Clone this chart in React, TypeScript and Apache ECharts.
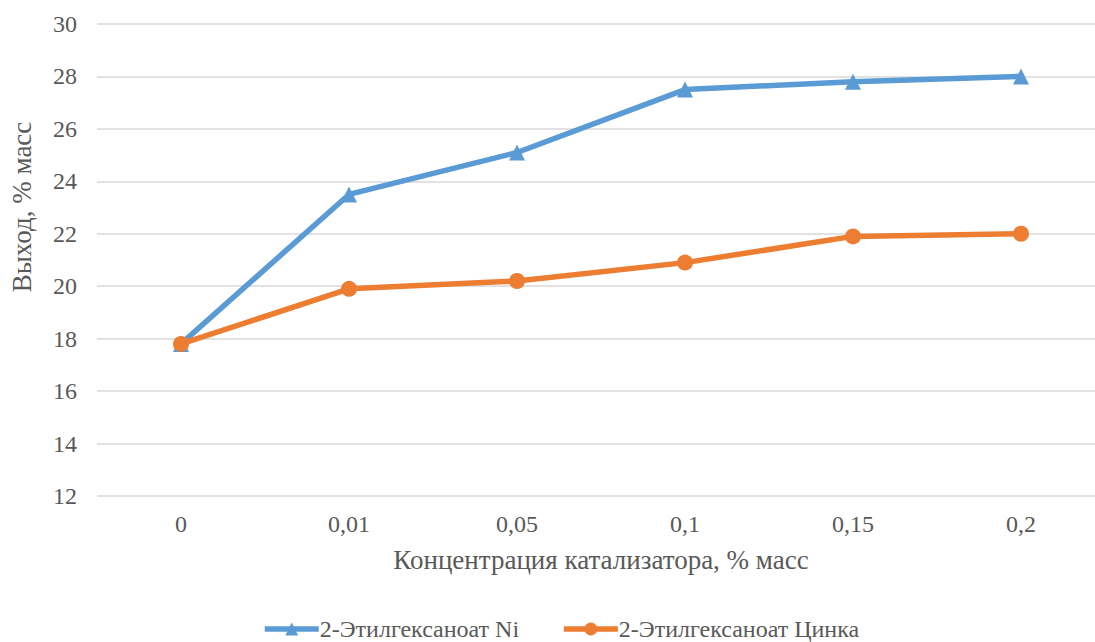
import React, { useEffect, useRef } from "react";
import * as echarts from "echarts";

const categories = ["0", "0,01", "0,05", "0,1", "0,15", "0,2"];
const nickelYield = [17.8, 23.5, 25.1, 27.5, 27.8, 28.0];
const zincYield = [17.8, 19.9, 20.2, 20.9, 21.9, 22.0];
const seriesNames = ["2-Этилгексаноат Ni", "2-Этилгексаноат Цинка"];
const xTitle = "Концентрация катализатора, % масс";
const yTitle = "Выход, % масс";

const FONT = "Liberation Serif";
const TEXT = "#595959";

export default function App() {
  const ref = useRef<HTMLDivElement>(null);

  useEffect(() => {
    if (!ref.current) return;
    const chart = echarts.init(ref.current, undefined, { renderer: "svg" });
    chart.setOption({
      animation: false,
      backgroundColor: "#ffffff",
      textStyle: { fontFamily: FONT },
      grid: { left: 97, top: 24, right: 0, bottom: 146, containLabel: false },
      legend: {
        top: 612,
        left: 257,
        itemWidth: 54,
        itemHeight: 16,
        itemGap: 42,
        lineStyle: { width: 5.5 },
        textStyle: { fontFamily: FONT, fontSize: 24, color: TEXT, padding: [0, 0, 0, -4] },
        data: seriesNames,
      },
      xAxis: {
        type: "category",
        data: categories,
        boundaryGap: true,
        axisLine: { show: false },
        axisTick: { show: false },
        axisLabel: { color: TEXT, fontSize: 24, fontFamily: FONT, margin: 16 },
        name: xTitle,
        nameLocation: "middle",
        nameGap: 50,
        nameTextStyle: { color: TEXT, fontSize: 27, fontFamily: FONT },
      },
      yAxis: {
        type: "value",
        min: 12,
        max: 30,
        interval: 2,
        axisLine: { show: false },
        axisTick: { show: false },
        splitLine: { lineStyle: { color: "#d9d9d9", width: 1.5 } },
        axisLabel: { color: TEXT, fontSize: 24, fontFamily: FONT, margin: 20 },
      },
      graphic: [
        {
          type: "text",
          x: 22,
          y: 207,
          rotation: Math.PI / 2,
          style: {
            text: yTitle,
            fill: TEXT,
            fontFamily: FONT,
            fontSize: 27,
            align: "center",
            verticalAlign: "middle",
          },
        },
      ],
      series: [
        {
          name: seriesNames[0],
          type: "line",
          data: nickelYield,
          symbol: "triangle",
          symbolSize: 16,
          lineStyle: { color: "#5b9bd5", width: 5.5 },
          itemStyle: { color: "#5b9bd5" },
          z: 2,
        },
        {
          name: seriesNames[1],
          type: "line",
          data: zincYield,
          symbol: "circle",
          symbolSize: 16,
          lineStyle: { color: "#ed7d31", width: 5.5 },
          itemStyle: { color: "#ed7d31" },
          z: 3,
        },
      ],
    });
    return () => chart.dispose();
  }, []);

  return (
    <div style={{ position: "fixed", left: 0, top: 0, width: 1095, height: 642, overflow: "hidden", background: "#fff" }}>
      <div ref={ref} style={{ position: "absolute", left: 0, top: 0, width: 1105, height: 642 }} />
    </div>
  );
}
